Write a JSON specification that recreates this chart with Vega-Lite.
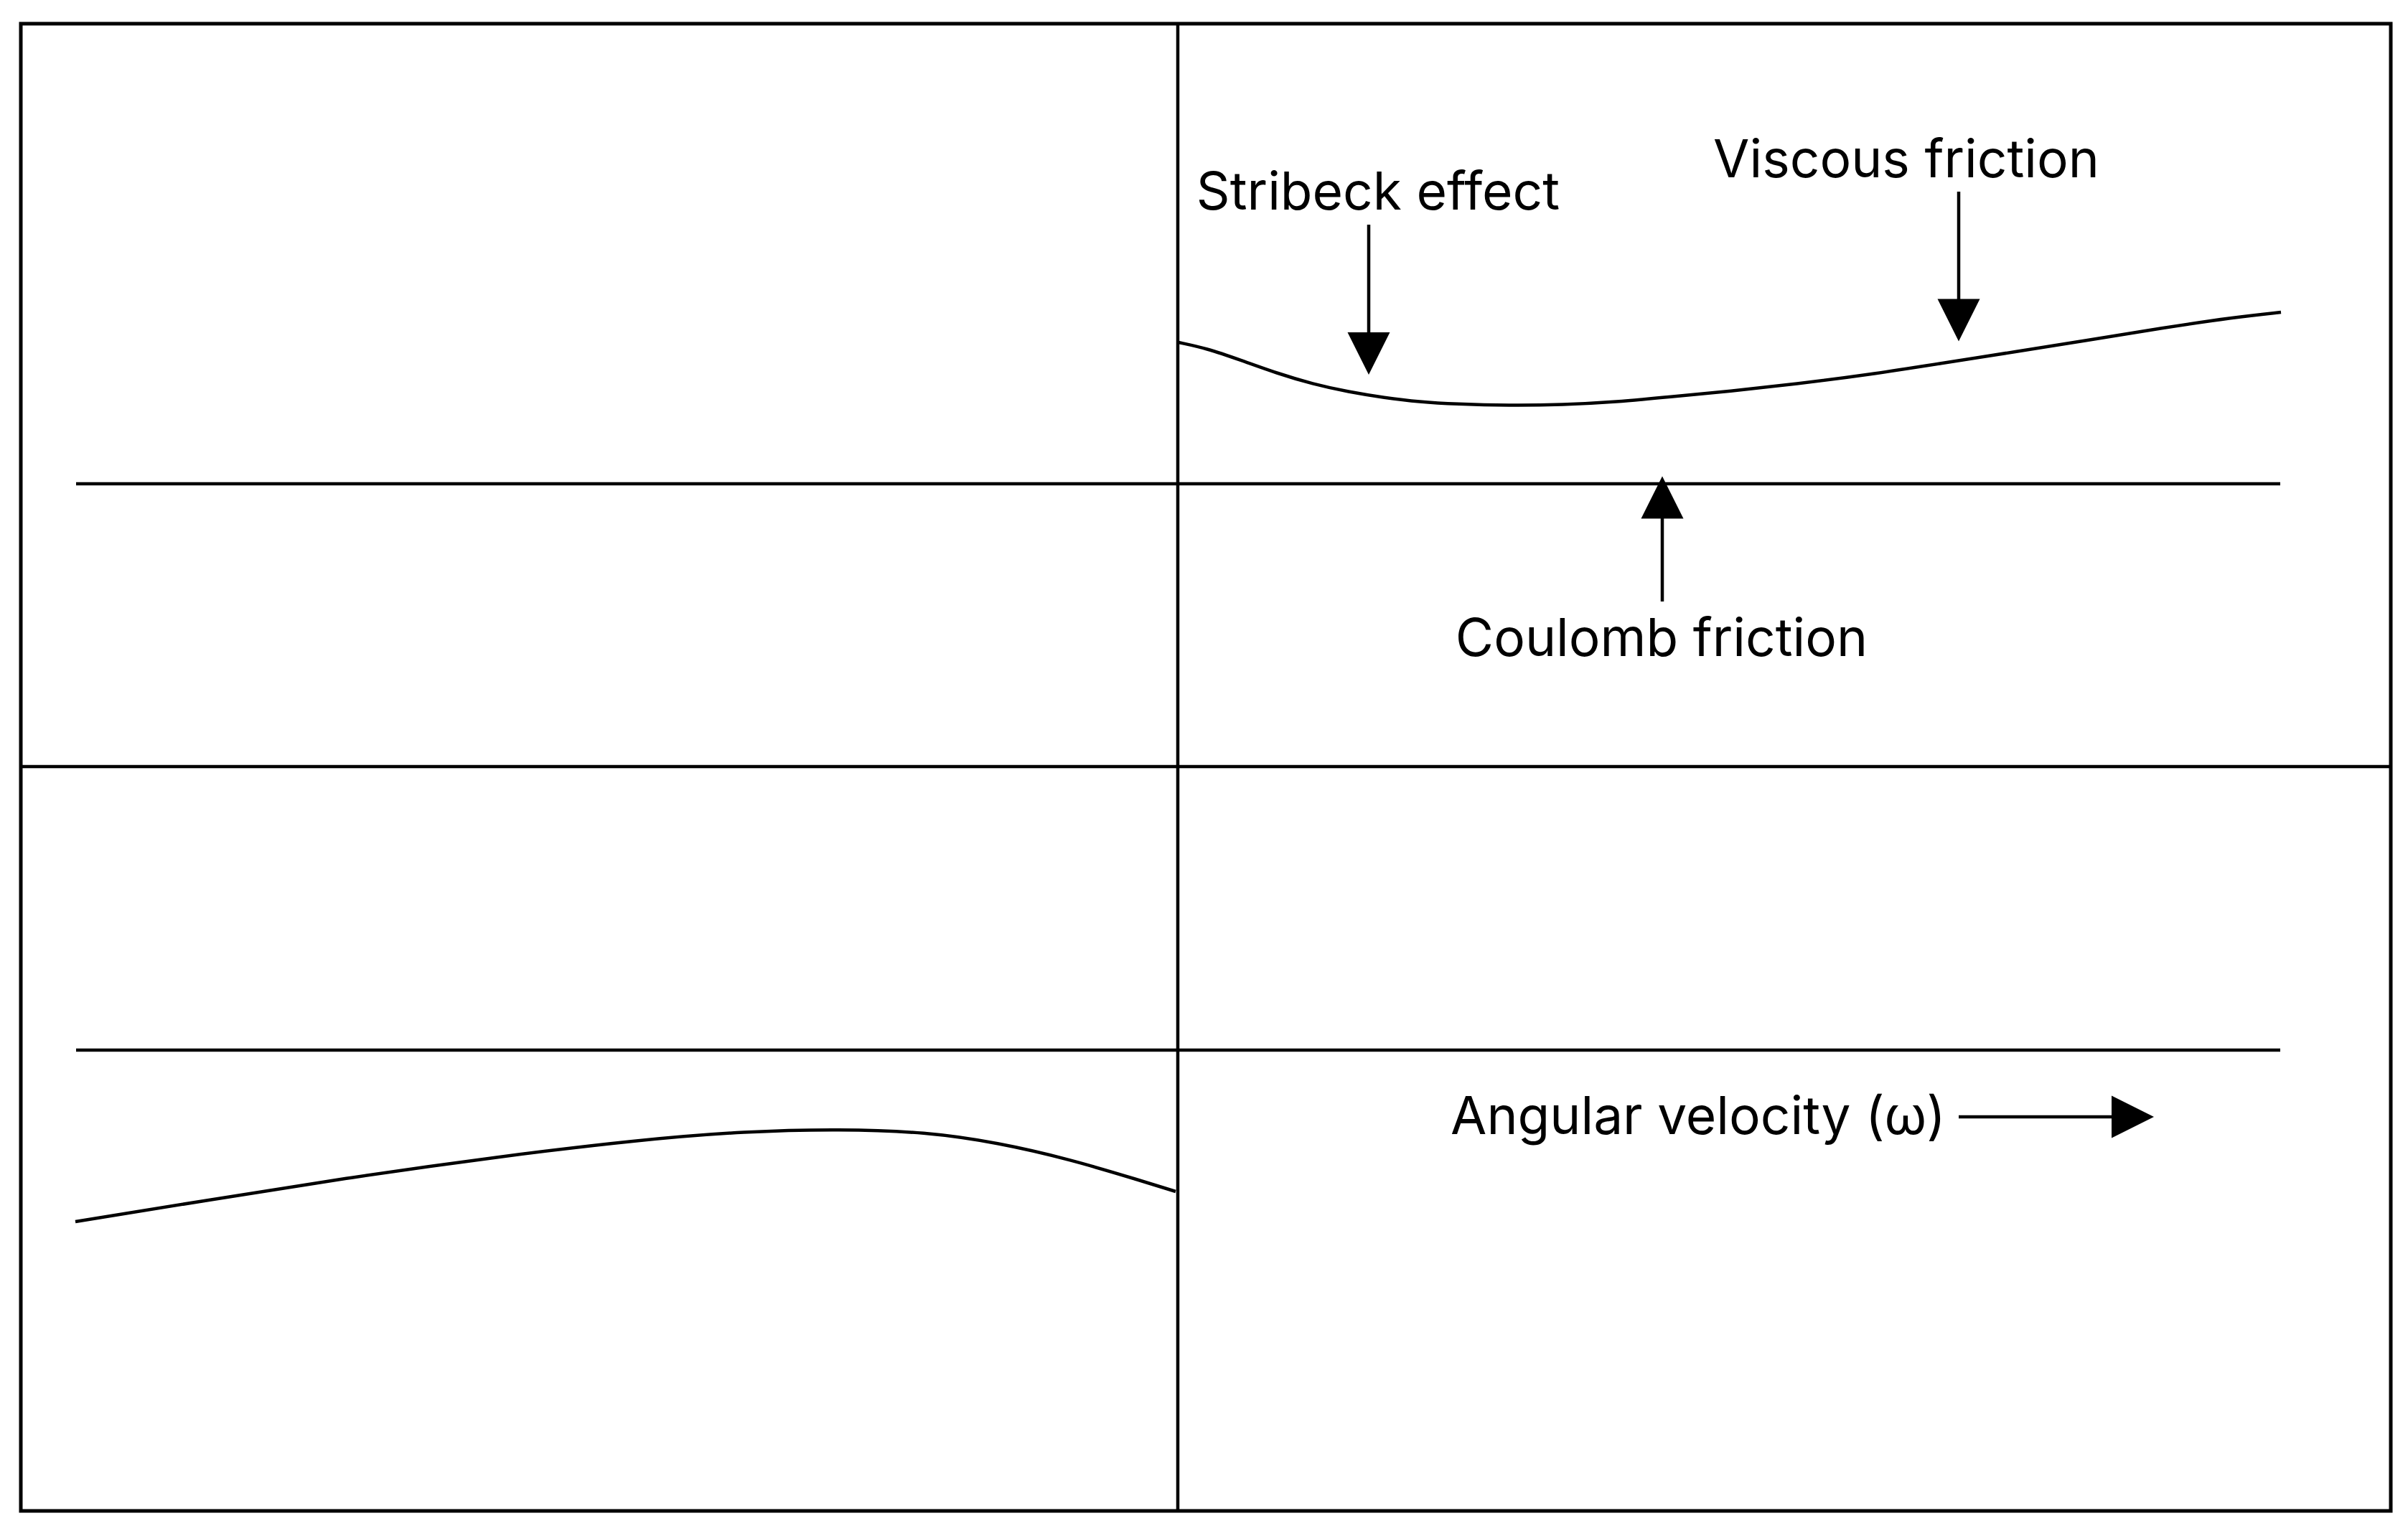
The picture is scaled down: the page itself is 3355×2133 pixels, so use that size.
{
  "$schema": "https://vega.github.io/schema/vega-lite/v6.json",
  "width": 3302,
  "height": 2072,
  "autosize": {"type": "none"},
  "padding": {"left": 29, "top": 33, "right": 24, "bottom": 28},
  "background": "white",
  "config": {
    "view": {"stroke": "black", "strokeWidth": 5},
    "axis": {"disable": true}
  },
  "datasets": {
    "origin": [{"omega": 0, "torque": 0}],
    "curves": [
      {"branch": "positive", "omega": 0.01, "torque": 5.91},
      {"branch": "positive", "omega": 0.39, "torque": 5.83},
      {"branch": "positive", "omega": 0.885, "torque": 5.66},
      {"branch": "positive", "omega": 1.38, "torque": 5.48},
      {"branch": "positive", "omega": 1.88, "torque": 5.33},
      {"branch": "positive", "omega": 2.38, "torque": 5.22},
      {"branch": "positive", "omega": 2.875, "torque": 5.14},
      {"branch": "positive", "omega": 3.37, "torque": 5.08},
      {"branch": "positive", "omega": 3.87, "torque": 5.05},
      {"branch": "positive", "omega": 4.615, "torque": 5.03},
      {"branch": "positive", "omega": 5.36, "torque": 5.04},
      {"branch": "positive", "omega": 6.11, "torque": 5.08},
      {"branch": "positive", "omega": 6.855, "torque": 5.15},
      {"branch": "positive", "omega": 7.69, "torque": 5.23},
      {"branch": "positive", "omega": 8.61, "torque": 5.33},
      {"branch": "positive", "omega": 9.63, "torque": 5.46},
      {"branch": "positive", "omega": 10.65, "torque": 5.62},
      {"branch": "positive", "omega": 11.67, "torque": 5.78},
      {"branch": "positive", "omega": 12.69, "torque": 5.94},
      {"branch": "positive", "omega": 13.71, "torque": 6.11},
      {"branch": "positive", "omega": 14.73, "torque": 6.26},
      {"branch": "positive", "omega": 15.37, "torque": 6.33},
      {"branch": "negative", "omega": -15.36, "torque": -6.34},
      {"branch": "negative", "omega": -13.51, "torque": -6.04},
      {"branch": "negative", "omega": -11.51, "torque": -5.72},
      {"branch": "negative", "omega": -9.51, "torque": -5.44},
      {"branch": "negative", "omega": -7.51, "torque": -5.2},
      {"branch": "negative", "omega": -6.01, "torque": -5.08},
      {"branch": "negative", "omega": -4.71, "torque": -5.05},
      {"branch": "negative", "omega": -3.51, "torque": -5.09},
      {"branch": "negative", "omega": -2.51, "torque": -5.24},
      {"branch": "negative", "omega": -1.51, "torque": -5.47},
      {"branch": "negative", "omega": -0.51, "torque": -5.77},
      {"branch": "negative", "omega": -0.03, "torque": -5.92}
    ],
    "coulomb": [
      {"level": "positive", "omega": -15.35, "omega2": 15.36, "torque": 3.94},
      {"level": "negative", "omega": -15.35, "omega2": 15.36, "torque": -3.95}
    ],
    "labels": [
      {"label": "Stribeck effect", "omega": 2.79, "torque": 7.76},
      {"label": "Viscous friction", "omega": 10.15, "torque": 8.21},
      {"label": "Coulomb friction", "omega": 6.74, "torque": 1.54},
      {"label": "Angular velocity (ω)", "omega": 7.25, "torque": -5.12}
    ],
    "vshafts": [
      {"name": "Stribeck", "omega": 2.66, "torque": 7.55, "torque2": 5.95},
      {"name": "Viscous", "omega": 10.88, "torque": 8.01, "torque2": 6.4},
      {"name": "Coulomb", "omega": 6.75, "torque": 2.3, "torque2": 3.6}
    ],
    "hshafts": [
      {"name": "Angular velocity", "omega": 10.88, "omega2": 13.1, "torque": -4.88}
    ],
    "heads": [
      {"name": "Stribeck", "direction": "down", "omega": 2.66, "torque": 5.755},
      {"name": "Viscous", "direction": "down", "omega": 10.88, "torque": 6.22},
      {"name": "Coulomb", "direction": "up", "omega": 6.75, "torque": 3.75},
      {"name": "Angular velocity", "direction": "right", "omega": 13.305, "torque": -4.88}
    ]
  },
  "layer": [
    {
      "data": {"name": "origin"},
      "mark": {"type": "rule", "stroke": "black", "strokeWidth": 4.5},
      "encoding": {
        "y": {"field": "torque", "type": "quantitative", "scale": {"domain": [-10.37, 10.35], "nice": false, "zero": false}, "axis": null}
      }
    },
    {
      "data": {"name": "origin"},
      "mark": {"type": "rule", "stroke": "black", "strokeWidth": 4.5},
      "encoding": {
        "x": {"field": "omega", "type": "quantitative", "scale": {"domain": [-16.12, 16.9], "nice": false, "zero": false}, "axis": null}
      }
    },
    {
      "data": {"name": "coulomb"},
      "mark": {"type": "rule", "stroke": "black", "strokeWidth": 4.5},
      "encoding": {
        "x": {"field": "omega", "type": "quantitative", "scale": {"domain": [-16.12, 16.9], "nice": false, "zero": false}, "axis": null},
        "x2": {"field": "omega2"},
        "y": {"field": "torque", "type": "quantitative", "scale": {"domain": [-10.37, 10.35], "nice": false, "zero": false}, "axis": null}
      }
    },
    {
      "data": {"name": "curves"},
      "mark": {"type": "line", "stroke": "black", "strokeWidth": 4.5, "interpolate": "basis"},
      "encoding": {
        "x": {"field": "omega", "type": "quantitative", "scale": {"domain": [-16.12, 16.9], "nice": false, "zero": false}, "axis": null},
        "y": {"field": "torque", "type": "quantitative", "scale": {"domain": [-10.37, 10.35], "nice": false, "zero": false}, "axis": null},
        "detail": {"field": "branch", "type": "nominal"},
        "order": {"field": "omega", "type": "quantitative"}
      }
    },
    {
      "data": {"name": "vshafts"},
      "mark": {"type": "rule", "stroke": "black", "strokeWidth": 4.5},
      "encoding": {
        "x": {"field": "omega", "type": "quantitative", "scale": {"domain": [-16.12, 16.9], "nice": false, "zero": false}, "axis": null},
        "y": {"field": "torque", "type": "quantitative", "scale": {"domain": [-10.37, 10.35], "nice": false, "zero": false}, "axis": null},
        "y2": {"field": "torque2"}
      }
    },
    {
      "data": {"name": "hshafts"},
      "mark": {"type": "rule", "stroke": "black", "strokeWidth": 4.5},
      "encoding": {
        "x": {"field": "omega", "type": "quantitative", "scale": {"domain": [-16.12, 16.9], "nice": false, "zero": false}, "axis": null},
        "x2": {"field": "omega2"},
        "y": {"field": "torque", "type": "quantitative", "scale": {"domain": [-10.37, 10.35], "nice": false, "zero": false}, "axis": null}
      }
    },
    {
      "data": {"name": "heads"},
      "transform": [{"filter": "datum.direction === 'down'"}],
      "mark": {"type": "point", "shape": "M-1,-1L1,-1L0,1Z", "filled": true, "fill": "black", "strokeWidth": 0, "size": 3481, "opacity": 1},
      "encoding": {
        "x": {"field": "omega", "type": "quantitative", "scale": {"domain": [-16.12, 16.9], "nice": false, "zero": false}, "axis": null},
        "y": {"field": "torque", "type": "quantitative", "scale": {"domain": [-10.37, 10.35], "nice": false, "zero": false}, "axis": null}
      }
    },
    {
      "data": {"name": "heads"},
      "transform": [{"filter": "datum.direction === 'up'"}],
      "mark": {"type": "point", "shape": "M-1,1L1,1L0,-1Z", "filled": true, "fill": "black", "strokeWidth": 0, "size": 3481, "opacity": 1},
      "encoding": {
        "x": {"field": "omega", "type": "quantitative", "scale": {"domain": [-16.12, 16.9], "nice": false, "zero": false}, "axis": null},
        "y": {"field": "torque", "type": "quantitative", "scale": {"domain": [-10.37, 10.35], "nice": false, "zero": false}, "axis": null}
      }
    },
    {
      "data": {"name": "heads"},
      "transform": [{"filter": "datum.direction === 'right'"}],
      "mark": {"type": "point", "shape": "M-1,-1L1,0L-1,1Z", "filled": true, "fill": "black", "strokeWidth": 0, "size": 3481, "opacity": 1},
      "encoding": {
        "x": {"field": "omega", "type": "quantitative", "scale": {"domain": [-16.12, 16.9], "nice": false, "zero": false}, "axis": null},
        "y": {"field": "torque", "type": "quantitative", "scale": {"domain": [-10.37, 10.35], "nice": false, "zero": false}, "axis": null}
      }
    },
    {
      "data": {"name": "labels"},
      "mark": {"type": "text", "font": "Inter", "fontSize": 73, "fill": "black", "align": "center", "baseline": "alphabetic"},
      "encoding": {
        "x": {"field": "omega", "type": "quantitative", "scale": {"domain": [-16.12, 16.9], "nice": false, "zero": false}, "axis": null},
        "y": {"field": "torque", "type": "quantitative", "scale": {"domain": [-10.37, 10.35], "nice": false, "zero": false}, "axis": null},
        "text": {"field": "label", "type": "nominal"}
      }
    }
  ]
}
